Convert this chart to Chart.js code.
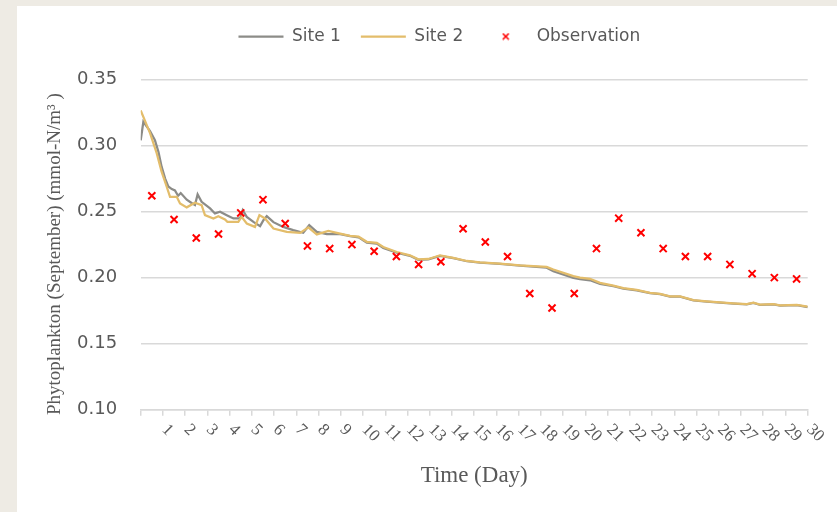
<!DOCTYPE html>
<html>
<head>
<meta charset="utf-8">
<script src="https://cdn.jsdelivr.net/npm/chart.js@4/dist/chart.umd.min.js"></script>
<style>
    body { margin: 0; background: #eeebe4; }
    #panel { position: absolute; left: 17px; top: 6px; width: 820px; height: 506px; background: #ffffff; }
</style>
</head>
<body>
<div id="panel"><canvas id="chart" width="820" height="506"></canvas></div>
<script>
// observations, one per day (mid-day)
let obsDays = [0.5, 1.5, 2.5, 3.5, 4.5, 5.5, 6.5, 7.5, 8.5, 9.5, 10.5, 11.5, 12.5, 13.5, 14.5,
    15.5, 16.5, 17.5, 18.5, 19.5, 20.5, 21.5, 22.5, 23.5, 24.5, 25.5, 26.5, 27.5, 28.5, 29.5];
let obsValues = [0.262, 0.244, 0.230, 0.233, 0.249, 0.259, 0.241, 0.224, 0.222, 0.225, 0.220, 0.216, 0.210, 0.212, 0.237,
    0.227, 0.216, 0.188, 0.177, 0.188, 0.222, 0.245, 0.234, 0.222, 0.216, 0.216, 0.210, 0.203, 0.200, 0.199];

let site1Days = [0, 0.12, 0.42, 0.64, 0.8, 0.94, 1.1, 1.24, 1.4, 1.54, 1.68, 1.8, 2.07, 2.29, 2.44, 2.56, 2.74,
    3.12, 3.34, 3.57, 3.87, 4.17, 4.47, 4.59, 4.77, 5.07, 5.37, 5.52, 5.67, 5.97, 6.41, 6.86, 7.31, 7.58,
    7.92, 8.37, 8.97, 9.42, 9.8, 10.17, 10.62, 10.91, 11.52, 12.11, 12.49, 12.94, 13.46, 14.06, 14.67,
    15.26, 16.16, 17.06, 18.26, 18.56, 19.46, 19.76, 20.21, 20.66, 21.26, 21.71, 22.31, 22.91, 23.36,
    23.81, 24.26, 24.86, 25.46, 26.06, 26.66, 27.26, 27.56, 27.86, 28.46, 28.76, 29.51, 30];
let site1Values = [0.304, 0.318, 0.311, 0.304, 0.295, 0.284, 0.275, 0.269, 0.267, 0.266, 0.262, 0.264, 0.259, 0.2565,
    0.255, 0.263, 0.2574, 0.2524, 0.2486, 0.2499, 0.2473, 0.2448, 0.2448, 0.251, 0.246, 0.2422, 0.239, 0.2435,
    0.2466, 0.242, 0.2384, 0.236, 0.234, 0.2397, 0.2346, 0.2329, 0.2329, 0.2314, 0.2305, 0.2265, 0.2257,
    0.2225, 0.2188, 0.2165, 0.2135, 0.2138, 0.2165, 0.2147, 0.2124, 0.2114, 0.2104, 0.2091, 0.2075, 0.2048,
    0.1998, 0.1988, 0.198, 0.1952, 0.1935, 0.1916, 0.1904, 0.1882, 0.1875, 0.1856, 0.1856, 0.1828, 0.1818,
    0.181, 0.1804, 0.1798, 0.1808, 0.1793, 0.1798, 0.1788, 0.1791, 0.1776];

let site2Days = [0, 0.42, 0.72, 0.94, 1.17, 1.32, 1.62, 1.77, 2.07, 2.44, 2.74, 2.89, 3.27, 3.49, 3.79, 3.9,
    4.39, 4.54, 4.77, 5.14, 5.34, 5.59, 5.97, 6.57, 7.17, 7.54, 7.92, 8.44, 8.97, 9.42, 9.8, 10.17, 10.62,
    10.91, 11.52, 12.11, 12.49, 12.94, 13.46, 14.06, 14.67, 15.26, 16.16, 17.06, 18.26, 18.56, 19.46, 19.76,
    20.21, 20.66, 21.26, 21.71, 22.31, 22.91, 23.36, 23.81, 24.26, 24.86, 25.46, 26.06, 26.66, 27.26, 27.56,
    27.86, 28.46, 28.76, 29.51, 30];
let site2Values = [0.3266, 0.3094, 0.2942, 0.2802, 0.2688, 0.2612, 0.2612, 0.2562, 0.2532, 0.2567, 0.2549, 0.2473,
    0.2448, 0.2465, 0.244, 0.2422, 0.2422, 0.246, 0.241, 0.2384, 0.2473, 0.2448, 0.2372, 0.2346, 0.2339,
    0.238, 0.2327, 0.2354, 0.2333, 0.2316, 0.231, 0.2271, 0.2263, 0.2232, 0.2194, 0.2169, 0.2139, 0.2141,
    0.2169, 0.2149, 0.2126, 0.2116, 0.2106, 0.2093, 0.2081, 0.2061, 0.2011, 0.2, 0.1991, 0.196, 0.194,
    0.192, 0.1907, 0.1884, 0.1877, 0.1858, 0.1858, 0.183, 0.182, 0.1812, 0.1805, 0.18, 0.181, 0.1795, 0.18,
    0.179, 0.1793, 0.178];

let dayLabels = ['1', '2', '3', '4', '5', '6', '7', '8', '9', '10', '11', '12', '13', '14', '15',
    '16', '17', '18', '19', '20', '21', '22', '23', '24', '25', '26', '27', '28', '29', '30'];

let yMin = 0.10, yMax = 0.35, yStep = 0.05;

function toPoints(xs, ys) {
    return xs.map((x, i) => ({ x: x, y: ys[i] }));
}

// small red x used as the legend marker for observations
let crossIcon = document.createElement('canvas');
crossIcon.width = 8;
crossIcon.height = 8;
(() => {
    let c = crossIcon.getContext('2d');
    c.strokeStyle = '#ff0000';
    c.lineWidth = 1.6;
    c.beginPath();
    c.moveTo(1, 1); c.lineTo(7, 7);
    c.moveTo(7, 1); c.lineTo(1, 7);
    c.stroke();
})();

let textColor = '#595959';

// push the plot down under the legend, nudge legend right
let legendSpace = {
    id: 'legendSpace',
    beforeInit(chart) {
        let fit = chart.legend.fit;
        chart.legend.fit = function () {
            fit.bind(chart.legend)();
            this.height = 71.5;
        };
    },
    afterLayout(chart) {
        chart.legend.left += 22;
        chart.legend.right += 22;
    }
};

// day labels, turned clockwise like the original
let dayTicks = {
    id: 'dayTicks',
    afterDraw(chart) {
        let ctx = chart.ctx;
        let xs = chart.scales.x;
        ctx.save();
        ctx.font = '17px "Liberation Serif"';
        ctx.fillStyle = textColor;
        ctx.textAlign = 'left';
        ctx.textBaseline = 'middle';
        dayLabels.forEach((label) => {
            let px = xs.getPixelForValue(Number(label));
            ctx.save();
            ctx.translate(px + 1.5, xs.top + 17.5);
            ctx.rotate(Math.PI / 4);
            ctx.fillText(label, 0, 0);
            ctx.restore();
        });
        ctx.restore();
    }
};

let myChart = new Chart(document.getElementById('chart').getContext('2d'), {
    type: 'line',
    data: {
        datasets: [{
            label: 'Site 1',
            data: toPoints(site1Days, site1Values),
            borderColor: '#8c8c88',
            backgroundColor: '#8c8c88',
            borderWidth: 2.25,
            pointRadius: 0,
            pointStyle: 'line',
            tension: 0,
            order: 2
        }, {
            label: 'Site 2',
            data: toPoints(site2Days, site2Values),
            borderColor: '#e3bd6b',
            backgroundColor: '#e3bd6b',
            borderWidth: 2.25,
            pointRadius: 0,
            pointStyle: 'line',
            tension: 0,
            order: 1
        }, {
            label: 'Observation',
            data: toPoints(obsDays, obsValues),
            showLine: false,
            pointStyle: 'crossRot',
            pointRadius: 5,
            pointBorderWidth: 2,
            borderColor: '#ff0000',
            backgroundColor: '#ff0000',
            order: 0
        }]
    },
    options: {
        responsive: false,
        animation: false,
        layout: {
            padding: { left: 10, right: 29.3, top: 2, bottom: 22.2 }
        },
        plugins: {
            tooltip: { enabled: false },
            legend: {
                position: 'top',
                labels: {
                    usePointStyle: true,
                    pointStyleWidth: 45,
                    padding: 20,
                    color: textColor,
                    font: { family: 'DejaVu Sans', size: 17 },
                    sort: (a, b) => a.datasetIndex - b.datasetIndex,
                    generateLabels(chart) {
                        let items = Chart.defaults.plugins.legend.labels.generateLabels(chart);
                        items.forEach((item) => {
                            if (item.text === 'Observation') {
                                item.pointStyle = crossIcon;
                            }
                        });
                        return items;
                    }
                }
            }
        },
        scales: {
            x: {
                type: 'linear',
                min: 0,
                max: 30,
                ticks: { stepSize: 1, display: false },
                grid: {
                    drawOnChartArea: false,
                    drawTicks: true,
                    tickLength: 6,
                    color: '#d9d9d9',
                    lineWidth: 1.5
                },
                border: { color: '#d9d9d9', width: 1.5 },
                title: {
                    display: true,
                    text: 'Time (Day)',
                    color: textColor,
                    font: { family: 'Liberation Serif', size: 23 },
                    padding: { top: 46.5, bottom: 0 }
                }
            },
            y: {
                min: yMin,
                max: yMax,
                afterFit: (scale) => { scale.width = 113.7; },
                ticks: {
                    stepSize: yStep,
                    padding: 23.6,
                    color: textColor,
                    font: { family: 'DejaVu Sans', size: 18 },
                    callback: (v) => v.toFixed(2)
                },
                grid: {
                    color: '#d9d9d9',
                    lineWidth: 1.5,
                    drawTicks: false
                },
                border: { display: false },
                title: {
                    display: true,
                    text: 'Phytoplankton (September) (mmol-N/m³ )    ',
                    color: textColor,
                    font: { family: 'Liberation Serif', size: 19 },
                    padding: { top: 17.1, bottom: 10.1 }
                }
            }
        }
    },
    plugins: [legendSpace, dayTicks]
});
</script>
</body>
</html>
